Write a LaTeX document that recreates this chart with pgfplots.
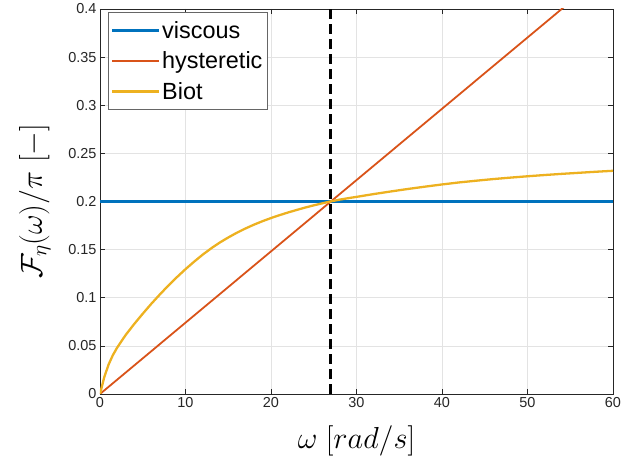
\RequirePackage{fix-cm}
\documentclass[border=0pt]{standalone}
\usepackage[no-math]{fontspec}
\setmainfont{Liberation Sans}
\usepackage{pgfplots}
\pgfplotsset{compat=1.18}
\definecolor{mblue}{rgb}{0,0.447,0.741}
\definecolor{mred}{rgb}{0.850,0.325,0.098}
\definecolor{myellow}{rgb}{0.929,0.694,0.125}
\definecolor{maxis}{rgb}{0.15,0.15,0.15}
\begin{document}
\begin{tikzpicture}
\begin{axis}[
  scale only axis,
  width=513bp, height=385bp,
  xmin=0, xmax=60, ymin=0, ymax=0.4,
  xtick={0,10,...,60},
  ytick={0,0.05,0.1,0.15,0.2,0.25,0.3,0.35,0.4},
  yticklabels={0,0.05,0.1,0.15,0.2,0.25,0.3,0.35,0.4},
  /pgf/number format/assume math mode=true,
  tick label style={font=\fontsize{14.5}{16}\selectfont, text=maxis},
  tick align=inside,
  major tick length=5bp,
  tick style={color=maxis, line width=0.5pt},
  axis line style={color=maxis, line width=0.6pt},
  grid=major,
  major grid style={color=black!11, line width=0.5pt},
  xlabel={$\omega\;[rad/s]$},
  ylabel={$\mathcal{F}_{\eta}(\omega)/\pi\;[-]$},
  label style={font=\fontsize{30.5}{34}\selectfont},
  xlabel style={at={(axis description cs:0.5,-0.122)}, anchor=center},
  ylabel style={at={(axis description cs:-0.127,0.5)}, anchor=center},
  legend style={at={(0.015,0.992)}, anchor=north west, draw=black!60, line width=0.5pt,
    fill=white, font=\fontsize{23.5}{27}\selectfont, inner xsep=3bp, inner ysep=7bp,
    row sep=8bp},
  legend cell align=left,
  legend image code/.code={\draw[#1] (0bp,0bp) -- (47bp,0bp);},
  clip=true,
]
\addplot[mblue, line width=2.3pt] coordinates {(0,0.2) (60,0.2)};
\addlegendentry{viscous}
\addplot[mred, line width=1.8pt] coordinates {(0,0) (27,0.2) (60,0.44444)};
\addlegendentry{hysteretic}
\addplot[myellow, line width=2.3pt] coordinates {
(0,0) (0.5,0.0175) (1,0.0305) (1.5,0.0403) (2,0.0481) (3,0.0613)
(4,0.0727) (5,0.0834) (6,0.0937) (7,0.1034) (8,0.1127) (9,0.1214) (10,0.1297)
(11,0.1374) (12,0.1447) (13,0.1513) (14,0.1573) (15,0.1626) (16,0.1675)
(17,0.1719) (18,0.1759) (19,0.1795) (20,0.1828) (21,0.1858) (22,0.1886)
(23,0.1912) (24,0.1937) (25,0.1960) (26,0.1981) (27,0.2001) (28,0.2019)
(29,0.2034) (30,0.2048) (32,0.2077) (34,0.2104) (36,0.2130) (38,0.2154)
(40,0.2177) (42,0.2198) (44,0.2216) (46,0.2233) (48,0.2248) (50,0.2262)
(52,0.2275) (54,0.2287) (56,0.2298) (58,0.2309) (60,0.2319)};
\addlegendentry{Biot}
\addplot[black, line width=3bp, dash pattern=on 10bp off 5bp, forget plot] coordinates {(27,0) (27,0.4)};
\end{axis}
\pgfresetboundingbox
\path[use as bounding box] ([xshift=-100bp,yshift=-74bp]current axis.south west) rectangle ([xshift=9bp,yshift=9bp]current axis.north east);
\end{tikzpicture}
\end{document}
